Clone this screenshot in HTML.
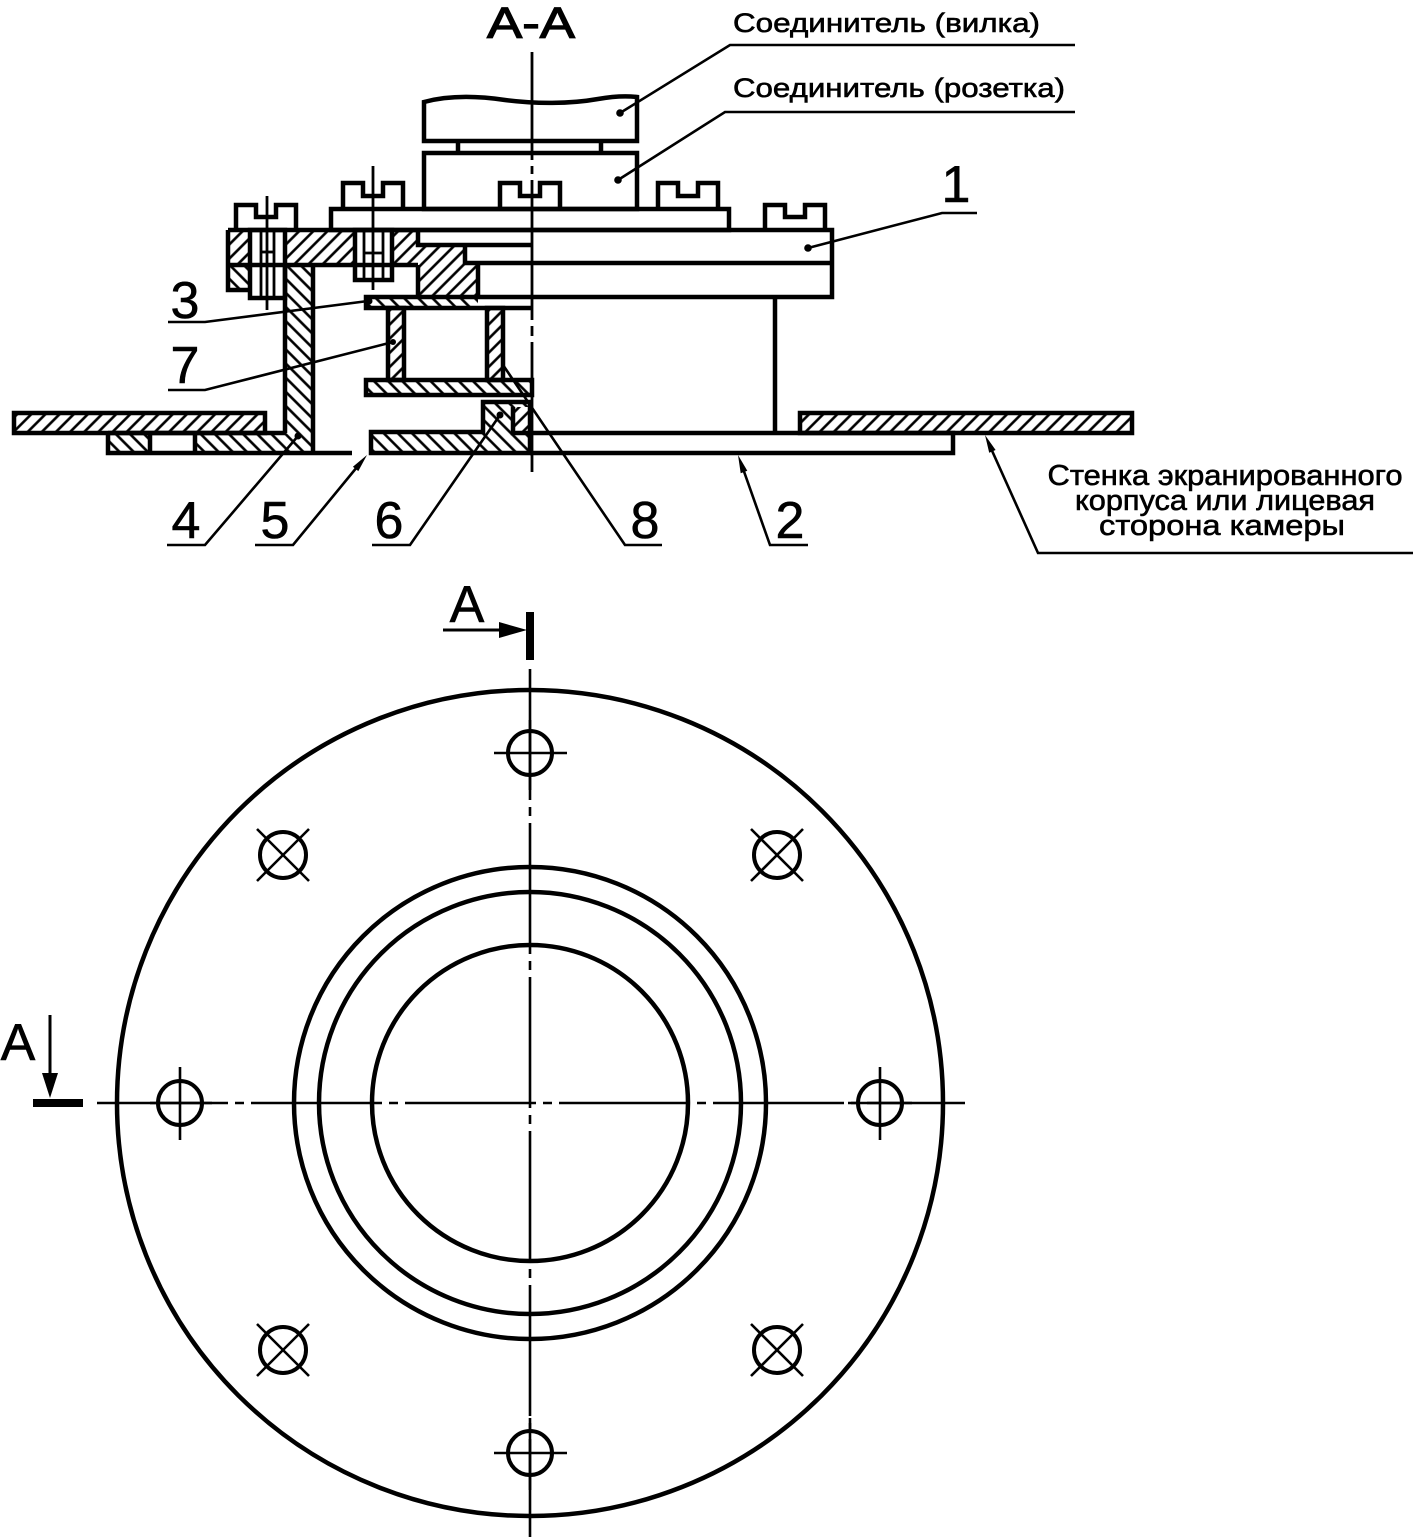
<!DOCTYPE html>
<html><head><meta charset="utf-8"><style>
html,body{margin:0;padding:0;background:#fff;}
svg{display:block;}
text{font-family:"Liberation Sans","DejaVu Sans",sans-serif;fill:#000;stroke:#000;stroke-width:0.6;}
</style></head><body>
<svg width="1413" height="1537" viewBox="0 0 1413 1537" xmlns="http://www.w3.org/2000/svg">
<defs>
<pattern id="hf" width="10" height="10" patternUnits="userSpaceOnUse" patternTransform="rotate(45)">
<line x1="5" y1="-1" x2="5" y2="11" stroke="#000" stroke-width="2.6"/></pattern>
<pattern id="hb" width="10" height="10" patternUnits="userSpaceOnUse" patternTransform="rotate(-45)">
<line x1="5" y1="-1" x2="5" y2="11" stroke="#000" stroke-width="2.6"/></pattern>
</defs>
<rect width="1413" height="1537" fill="#fff"/>

<!-- ========== SECTION A-A ========== -->
<text x="531" y="38" font-size="44" text-anchor="middle" textLength="88" lengthAdjust="spacingAndGlyphs" style="stroke-width:1.2">А-А</text>

<!-- hatched fills -->
<g stroke="none">
<polygon fill="url(#hf)" points="228,230 418,230 418,245 465,245 465,263 478,263 478,297 418,297 418,265 228,265"/>
<rect fill="url(#hb)" x="228" y="265" width="22" height="25"/>
<rect fill="url(#hb)" x="285" y="265" width="28" height="188"/>
<rect fill="url(#hb)" x="108" y="433" width="42" height="20"/>
<rect fill="url(#hb)" x="195" y="433" width="90" height="20"/>
<rect fill="url(#hb)" x="366" y="297" width="112" height="11"/>
<rect fill="url(#hf)" x="388" y="308" width="16" height="72"/>
<rect fill="url(#hf)" x="487" y="308" width="16" height="72"/>
<rect fill="url(#hb)" x="366" y="380" width="166" height="15"/>
<polygon fill="url(#hb)" points="483,402 530,402 530,453 371,453 371,432 483,432"/>
<rect fill="#fff" x="513" y="407" width="17" height="26"/>
<rect fill="url(#hf)" x="513" y="407" width="17" height="26"/>
<rect fill="url(#hf)" x="14" y="413" width="251" height="20"/>
<rect fill="url(#hf)" x="800" y="413" width="332" height="20"/>
<rect fill="#fff" x="250" y="230" width="35" height="68"/>
<rect fill="#fff" x="355" y="230" width="37" height="50"/>
</g>

<!-- main outlines -->
<g fill="none" stroke="#000" stroke-width="4.5">
<path d="M424,141 L424,102 C450,95 478,96 505,100 C535,104 570,104 598,99 C615,96 628,96 637,97 L637,141 Z"/>
<line x1="458" y1="141" x2="458" y2="153"/>
<line x1="601" y1="141" x2="601" y2="153"/>
<rect x="424" y="153" width="213" height="56"/>
<rect x="331" y="209" width="398" height="21"/>
<path d="M343,209 V183 H363 V196 H383 V183 H403 V209"/>
<path d="M500,209 V183 H520 V196 H540 V183 H560 V209"/>
<path d="M658,209 V183 H678 V196 H698 V183 H718 V209"/>
<path d="M765,230 V205 H785 V217 H805 V205 H825 V230"/>
<path d="M236,230 V205 H256 V217 H276 V205 H296 V230"/>
<path d="M228,230 H832 V297 H366 V308 H532"/>
<path d="M228,230 V290 H250"/>
<line x1="228" y1="265" x2="418" y2="265"/>
<path d="M418,230 V245 H532"/>
<path d="M465,245 V263 H832"/>
<line x1="418" y1="265" x2="418" y2="297"/>
<line x1="478" y1="263" x2="478" y2="297"/>
<rect x="250" y="230" width="35" height="68"/>
<rect x="355" y="230" width="37" height="50"/>
<line x1="285" y1="265" x2="285" y2="433"/>
<line x1="313" y1="265" x2="313" y2="453"/>
<path d="M108,433 H285"/>
<path d="M108,433 V453 H352"/>
<line x1="150" y1="433" x2="150" y2="453"/>
<line x1="195" y1="433" x2="195" y2="453"/>
<rect x="14" y="413" width="251" height="20"/>
<rect x="800" y="413" width="332" height="20"/>
<rect x="388" y="308" width="16" height="72"/>
<rect x="487" y="308" width="16" height="72"/>
<rect x="366" y="380" width="166" height="15"/>
<polygon points="483,402 530,402 530,453 371,453 371,432 483,432"/>
<path d="M513,407 V433 H530"/>
<path d="M530,433 H953 V453 H530"/>
<line x1="775" y1="297" x2="775" y2="433"/>
</g>

<!-- thin lines: bolt threads, axes -->
<g fill="none" stroke="#000" stroke-width="2.8">
<line x1="261" y1="232" x2="261" y2="296"/>
<line x1="274" y1="232" x2="274" y2="296"/>
<line x1="364" y1="232" x2="364" y2="278"/>
<line x1="383" y1="232" x2="383" y2="278"/>
<line x1="262" y1="252" x2="273" y2="252"/>
<line x1="365" y1="253" x2="382" y2="253"/>
<line x1="267" y1="196" x2="267" y2="310"/>
<line x1="373" y1="166" x2="373" y2="290"/>
<line x1="532" y1="52" x2="532" y2="160"/>
<line x1="532" y1="166" x2="532" y2="174"/>
<line x1="532" y1="180" x2="532" y2="320"/>
<line x1="532" y1="326" x2="532" y2="336"/>
<line x1="532" y1="342" x2="532" y2="472"/>
</g>

<!-- leaders -->
<g fill="none" stroke="#000" stroke-width="2.6">
<polyline points="1075,45 730,45 620,113"/>
<polyline points="1075,112 725,112 618,180"/>
<polyline points="977,213 942,213 808,248"/>
<polyline points="168,322 205,322 368,301"/>
<polyline points="168,390 205,390 393,342"/>
<polyline points="167,545 205,545 298,436"/>
<polyline points="255,545 293,545 362,461"/>
<polyline points="372,545 410,545 500,415"/>
<polyline points="662,545 625,545 503,365"/>
<polyline points="808,545 770,545 741,463"/>
<polyline points="1413,553 1038,553 989,444"/>
</g>
<g fill="#000" stroke="none">
<circle cx="620" cy="113" r="3.8"/>
<circle cx="618" cy="180" r="3.8"/>
<circle cx="808" cy="248" r="3.8"/>
<circle cx="298" cy="436" r="3.5"/>
<circle cx="500" cy="415" r="3.5"/>
<circle cx="369" cy="301" r="3.5"/>
<circle cx="393" cy="342" r="3"/>
<polygon points="367,455 358.3,471.1 352.9,466.7"/>
<polygon points="738,455 747.3,470.8 740.7,473.2"/>
<polygon points="985,435 995.6,450.0 989.2,452.8"/>
</g>

<!-- labels -->
<text x="733" y="32" font-size="27" textLength="307" lengthAdjust="spacingAndGlyphs">Соединитель (вилка)</text>
<text x="733" y="97" font-size="27" textLength="332" lengthAdjust="spacingAndGlyphs">Соединитель (розетка)</text>
<g font-size="52" text-anchor="middle">
<text x="956" y="202">1</text>
<text x="185" y="318">3</text>
<text x="185" y="383">7</text>
<text x="186" y="538">4</text>
<text x="275" y="538">5</text>
<text x="389" y="538">6</text>
<text x="645" y="538">8</text>
<text x="790" y="538">2</text>
</g>
<g font-size="29" text-anchor="middle">
<text x="1225" y="485" textLength="355" lengthAdjust="spacingAndGlyphs">Стенка экранированного</text>
<text x="1225" y="510" textLength="300" lengthAdjust="spacingAndGlyphs">корпуса или лицевая</text>
<text x="1222" y="535" textLength="246" lengthAdjust="spacingAndGlyphs">сторона камеры</text>
</g>

<!-- ========== PLAN VIEW ========== -->
<text x="467" y="622" font-size="52" text-anchor="middle">А</text>
<line x1="443" y1="630" x2="503" y2="630" stroke="#000" stroke-width="3"/>
<polygon points="527,630 499,622 499,638" fill="#000"/>
<rect x="526" y="612" width="8" height="48" fill="#000"/>

<text x="18" y="1060" font-size="52" text-anchor="middle">А</text>
<line x1="50" y1="1015" x2="50" y2="1076" stroke="#000" stroke-width="3"/>
<polygon points="50,1098 42,1073 58,1073" fill="#000"/>
<rect x="33" y="1099" width="50" height="8" fill="#000"/>

<g stroke="#000" stroke-width="2.6" fill="none">
<line x1="97" y1="1103" x2="965" y2="1103" stroke-dasharray="131 7 9 7"/>
<line x1="530" y1="669" x2="530" y2="1537" stroke-dasharray="131 7 9 7"/>
<line x1="150" y1="1103" x2="212" y2="1103"/>
<line x1="848" y1="1103" x2="912" y2="1103"/>
<line x1="530" y1="720" x2="530" y2="790"/>
<line x1="530" y1="1418" x2="530" y2="1490"/>
<line x1="494" y1="753" x2="567" y2="753"/>
<line x1="494" y1="1453" x2="567" y2="1453"/>
<line x1="180" y1="1067" x2="180" y2="1140"/>
<line x1="880" y1="1067" x2="880" y2="1140"/>
<line x1="257" y1="829" x2="309" y2="881"/>
<line x1="309" y1="829" x2="257" y2="881"/>
<line x1="751" y1="829" x2="803" y2="881"/>
<line x1="803" y1="829" x2="751" y2="881"/>
<line x1="257" y1="1324" x2="309" y2="1376"/>
<line x1="309" y1="1324" x2="257" y2="1376"/>
<line x1="751" y1="1324" x2="803" y2="1376"/>
<line x1="803" y1="1324" x2="751" y2="1376"/>
</g>

<g fill="none" stroke="#000" stroke-width="4.5">
<circle cx="530" cy="1103" r="413"/>
<circle cx="530" cy="1103" r="236"/>
<circle cx="530" cy="1103" r="211"/>
<circle cx="530" cy="1103" r="158"/>
</g>
<g fill="none" stroke="#000" stroke-width="4">
<circle cx="530" cy="753" r="22"/>
<circle cx="530" cy="1453" r="22"/>
<circle cx="180" cy="1103" r="22"/>
<circle cx="880" cy="1103" r="22"/>
<circle cx="283" cy="855" r="23"/>
<circle cx="777" cy="855" r="23"/>
<circle cx="283" cy="1350" r="23"/>
<circle cx="777" cy="1350" r="23"/>
</g>
</svg>
</body></html>
